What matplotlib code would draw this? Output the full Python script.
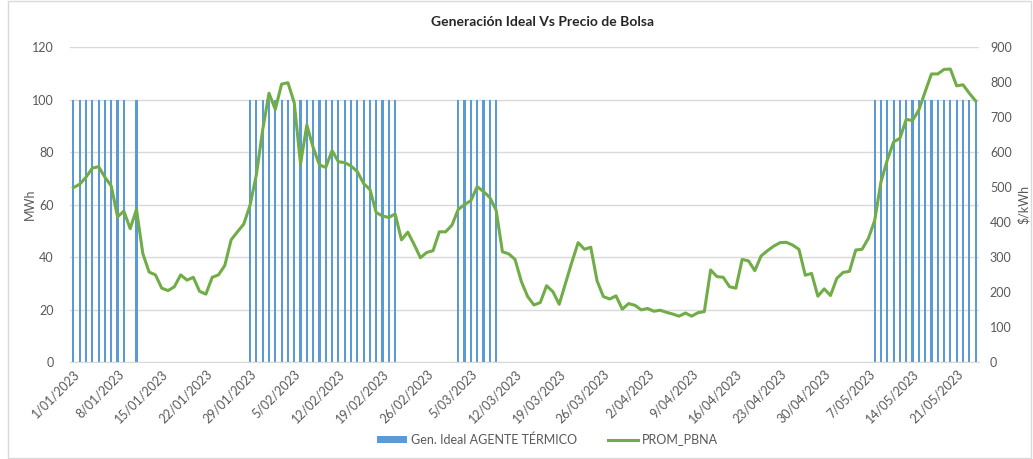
import numpy as np
import pandas as pd
import matplotlib
matplotlib.use('Agg')
import matplotlib.pyplot as plt
from matplotlib.patches import Patch, Rectangle
from matplotlib.lines import Line2D

plt.rcParams['font.family'] = ['Lato', 'DejaVu Sans']

# daily categories 1/01/2023 .. 24/05/2023
dates = pd.date_range('2023-01-01', '2023-05-24', freq='D')
date_labels = [f"{d.day}/{d.month:02d}/{d.year}" for d in dates]

# Gen. Ideal AGENTE TERMICO (MWh), one row per week
gen_ideal = [
    100, 100, 100, 100, 100, 100, 100,
    100, 100, 0, 100, 0, 0, 0,
    0, 0, 0, 0, 0, 0, 0,
    0, 0, 0, 0, 0, 0, 0,
    100, 100, 100, 100, 100, 100, 100,
    100, 100, 100, 100, 100, 100, 100,
    100, 100, 100, 100, 100, 100, 100,
    100, 100, 100, 0, 0, 0, 0,
    0, 0, 0, 0, 0, 100, 100,
    100, 100, 100, 100, 100, 0, 0,
    0, 0, 0, 0, 0, 0, 0,
    0, 0, 0, 0, 0, 0, 0,
    0, 0, 0, 0, 0, 0, 0,
    0, 0, 0, 0, 0, 0, 0,
    0, 0, 0, 0, 0, 0, 0,
    0, 0, 0, 0, 0, 0, 0,
    0, 0, 0, 0, 0, 0, 0,
    0, 0, 0, 0, 0, 0, 0,
    0, 100, 100, 100, 100, 100, 100,
    100, 100, 100, 100, 100, 100, 100,
    100, 100, 100, 100,
]

# PROM_PBNA ($/kWh), one row per week
prom_pbna = [
    498, 508, 528, 554, 558, 528, 503,
    415, 431, 381, 436, 310, 257, 249,
    211, 204, 215, 249, 234, 242, 202,
    194, 242, 249, 276, 349, 372, 394,
    448, 535, 663, 768, 722, 794, 798,
    741, 566, 677, 613, 563, 556, 604,
    572, 570, 560, 544, 510, 493, 427,
    417, 413, 423, 349, 371, 336, 298,
    313, 318, 372, 372, 391, 436, 450,
    461, 501, 487, 470, 434, 315, 309,
    293, 230, 187, 163, 170, 218, 201,
    165, 225, 285, 341, 322, 328, 232,
    187, 180, 189, 151, 167, 162, 149,
    153, 145, 148, 142, 137, 131, 140,
    131, 141, 144, 263, 244, 242, 215,
    211, 293, 289, 261, 303, 318, 331,
    341, 342, 334, 322, 248, 253, 188,
    209, 190, 239, 256, 259, 320, 322,
    353, 404, 515, 577, 629, 639, 693,
    690, 720, 772, 823, 823, 836, 837,
    789, 792, 768, 746,
]

bar_color = '#5B9BD5'
line_color = '#70AD47'
text_color = '#595959'
grid_color = '#D9D9D9'

fig = plt.figure(figsize=(10.33, 4.59), dpi=100)
ax = fig.add_axes([0.068, 0.2113, 0.8795, 0.6863])
ax2 = ax.twinx()

x = np.arange(len(dates))
ax.bar(x, gen_ideal, width=0.34, color=bar_color, zorder=2)
ax2.plot(x, prom_pbna, color=line_color, linewidth=2.2, zorder=3)

ax.set_xlim(-0.5, len(dates) - 0.5)
ax.set_ylim(0, 120)
ax.set_yticks(range(0, 121, 20))
ax2.set_ylim(0, 900)
ax2.set_yticks(range(0, 901, 100))

ax.yaxis.grid(True, color=grid_color, linewidth=1, zorder=0)
ax.set_axisbelow(True)

tick_pos = x[::7]
ax.set_xticks(tick_pos)
ax.set_xticklabels([date_labels[i] for i in tick_pos], rotation=45, ha='right',
                   rotation_mode='anchor', fontsize=9, color=text_color)

for a in (ax, ax2):
    for s in a.spines.values():
        s.set_visible(False)
    a.tick_params(length=0, labelsize=9, labelcolor=text_color)
ax.spines['bottom'].set_visible(True)
ax.spines['bottom'].set_color(grid_color)
ax.tick_params(axis='x', pad=4)
ax.tick_params(axis='y', pad=12)
ax2.tick_params(axis='y', pad=8)

ax.set_ylabel('MWh', fontsize=9, color=text_color, labelpad=-3)
ax2.set_ylabel('$/kWh', fontsize=9, color=text_color, labelpad=4)

fig.text(0.525, 0.952, 'Generación Ideal Vs Precio de Bolsa', ha='center', va='center',
         fontsize=10, fontweight='bold', color='#262626')

handles = [Patch(facecolor=bar_color, edgecolor='none'),
           Line2D([0], [0], color=line_color, linewidth=2.2)]
fig.legend(handles, ['Gen. Ideal AGENTE TÉRMICO', 'PROM_PBNA'], loc='center',
           bbox_to_anchor=(0.53, 0.043), ncol=2, frameon=False, fontsize=9,
           labelcolor=text_color, handlelength=2.4, handleheight=0.5,
           columnspacing=2.5, handletextpad=0.3)

fig.patches.append(Rectangle((0.008, 0.002), 0.99, 0.995, transform=fig.transFigure,
                             fill=False, edgecolor=grid_color, linewidth=1))

fig.savefig('out.png', dpi=100)
